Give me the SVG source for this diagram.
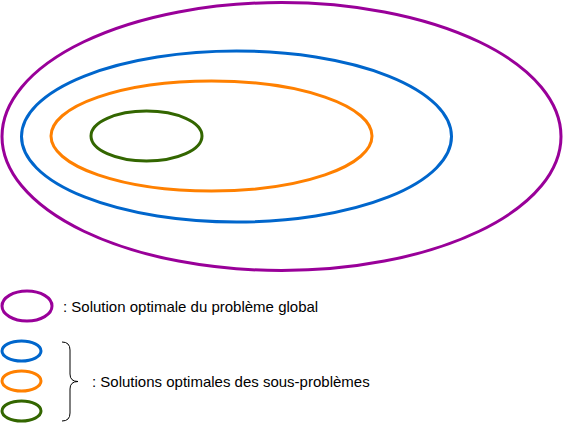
<svg xmlns="http://www.w3.org/2000/svg" width="563" height="423" viewBox="0 0 563 423">
<style>
.e{fill:none;stroke-width:3}
.p{stroke:#990099}.b{stroke:#0066CC}.o{stroke:#FF8000}.g{stroke:#336600}
.t{font-family:"Liberation Sans",Arial,sans-serif;font-size:15px;fill:#000}
</style>
<rect width="563" height="423" fill="#fff"/>
<g id="global"><ellipse class="e p" cx="281.5" cy="136.5" rx="279.5" ry="134"/></g>
<g id="sub1"><ellipse class="e b" cx="236.5" cy="136.5" rx="215" ry="85.5"/></g>
<g id="sub2"><ellipse class="e o" cx="211.5" cy="136" rx="160.5" ry="55"/></g>
<g id="sub3"><ellipse class="e g" cx="146.5" cy="136" rx="55.5" ry="25"/></g>
<g id="legend-global">
<ellipse class="e p" cx="27" cy="306" rx="25" ry="15"/>
<text class="t" x="63" y="311.5">: Solution optimale du problème global</text>
</g>
<g id="legend-sub">
<ellipse class="e b" cx="21.5" cy="351" rx="19.5" ry="10"/>
<ellipse class="e o" cx="21.5" cy="381" rx="19.5" ry="10"/>
<ellipse class="e g" cx="21.5" cy="411" rx="19.5" ry="10"/>
<path d="M62,342 q8,0 8,8 v24 q0,7.5 8,7.5 q-8,0 -8,7.5 v24 q0,8 -8,8" fill="none" stroke="#000" stroke-width="1"/>
<text class="t" x="92" y="386.5">: Solutions optimales des sous-problèmes</text>
</g>
</svg>
